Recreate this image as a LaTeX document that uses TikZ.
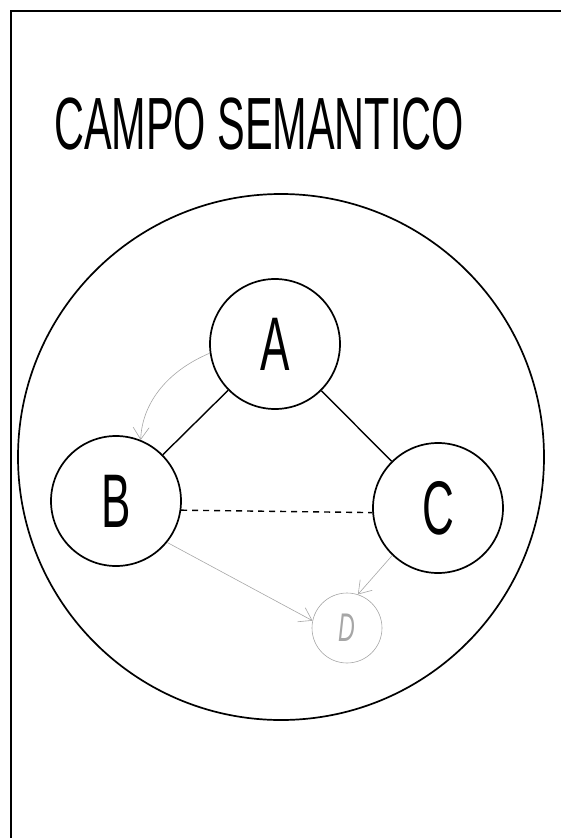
\documentclass[tikz,border=0pt]{standalone}
\usepackage{fontspec}
\setmainfont{Liberation Sans}
\usetikzlibrary{arrows.meta}
\tikzset{
  idea/.style={circle,draw,line width=1.7pt,minimum size=130pt,inner sep=0pt,
    font=\fontsize{76}{80}\selectfont},
  hand/.style={gray!70,line width=0.6pt},
}
\newcommand{\narrow}[1]{\scalebox{0.58}[1]{#1}}

\begin{document}
\begin{tikzpicture}[x=1pt,y=-1pt,>={Straight Barb[length=12pt,width=16pt]}]
	\useasboundingbox (0,0) rectangle (561,838);
	% frame and title
	\draw[line width=1.7pt] (11,838)--(11,11)--(561,11);
	\node[font=\fontsize{74}{80}\selectfont,inner sep=0pt] (title) at (259,124)
		{\scalebox{0.56}[1]{CAMPO SEMANTICO}};
	% the field
	\coordinate (O) at (281,457);
	\draw[line width=1.7pt] (O) circle [radius=263];
	\node[idea] (A) at (275,344) {\narrow{A}};
	\node[idea] (B) at (116,501) {\narrow{B}};
	\node[idea] (C) at (438,508) {\narrow{C}};
	\draw[line width=1.4pt] (A)--(B);
	\draw[line width=1.4pt] (A)--(C);
	\draw[line width=1.4pt,dash pattern=on 6pt off 5pt] (B.-8)--(C.184);
	% pencil notes
	\node[hand,draw,circle,minimum size=70pt,inner sep=0pt,
		font=\fontsize{40}{40}\selectfont\itshape] (D) at (347,628) {\narrow{D}};
	\draw[hand,->] (A.188) .. controls (165,372) and (142,405) .. (B.68);
	\draw[hand,->] (B.-39)--(D.168);
	\draw[hand,->] (C.226)--(D.72);
\end{tikzpicture}
\end{document}
